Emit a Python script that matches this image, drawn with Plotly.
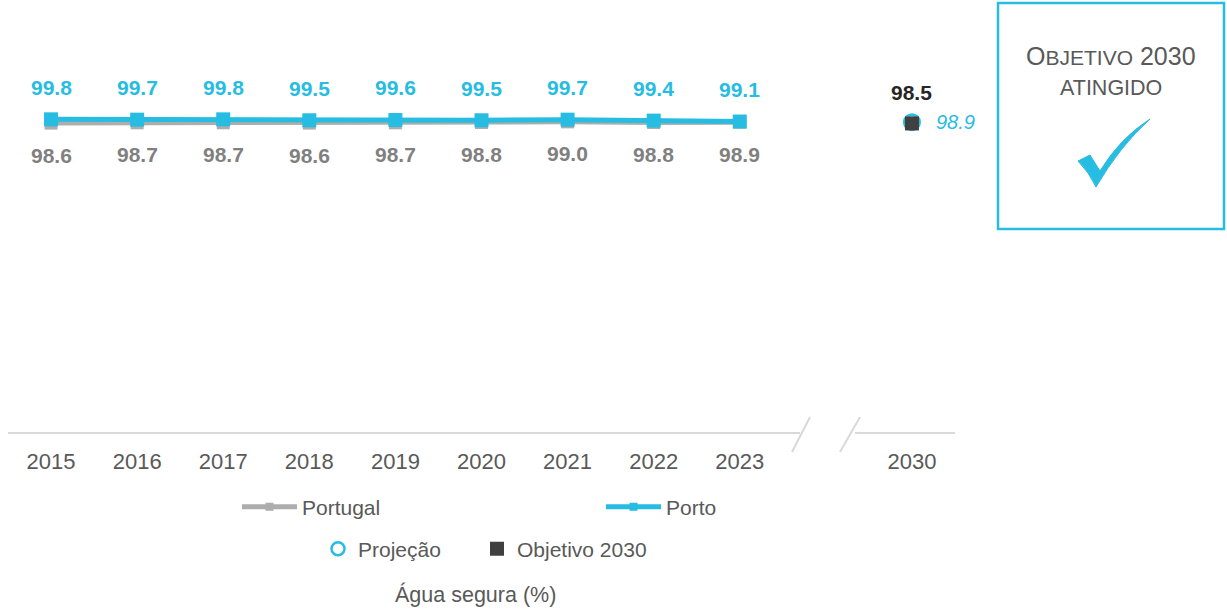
import plotly.graph_objects as go

# ---------------- data ----------------
years = ["2015", "2016", "2017", "2018", "2019", "2020", "2021", "2022", "2023"]
portugal = [98.6, 98.7, 98.7, 98.6, 98.7, 98.8, 99.0, 98.8, 98.9]
porto = [99.8, 99.7, 99.8, 99.5, 99.6, 99.5, 99.7, 99.4, 99.1]
target_year = "2030"
objetivo_2030 = [98.5]
projecao_2030 = [98.9]

# ---------------- styling ----------------
BLUE = "#27BCE2"
GRAY_LINE = "#ADADAD"
GRAY_TEXT = "#808080"
DARK = "#404040"
TEXT = "#595959"
FONT = "Liberation Sans, Arial, sans-serif"

W, H = 1227, 610
PL, PR, PT, PB = 8, 955, 37, 433   # plot area in page pixels


def px(xp):
    return (xp - PL) / (PR - PL)


def py(yp):
    return (PB - yp) / (PB - PT)


x_hist = list(range(len(years)))
x_target = [len(years) + 1]
tick_vals = x_hist + x_target
tick_text = years + [target_year]

fig = go.Figure()

# Portugal line
fig.add_trace(go.Scatter(
    x=x_hist, y=portugal, mode="lines+markers", name="Portugal",
    line=dict(color=GRAY_LINE, width=5),
    marker=dict(symbol="square", size=13, color=GRAY_LINE),
    showlegend=False, hoverinfo="skip"))
# Porto line
fig.add_trace(go.Scatter(
    x=x_hist, y=porto, mode="lines+markers", name="Porto",
    line=dict(color=BLUE, width=5),
    marker=dict(symbol="square", size=14, color=BLUE),
    showlegend=False, hoverinfo="skip"))
# Projection 2030
fig.add_trace(go.Scatter(
    x=x_target, y=projecao_2030, mode="markers", name="Projeção",
    marker=dict(symbol="circle-open", size=15, color=BLUE, line=dict(width=3, color=BLUE)),
    showlegend=False, hoverinfo="skip"))
# Target 2030
fig.add_trace(go.Scatter(
    x=x_target, y=objetivo_2030, mode="markers", name="Objetivo 2030",
    marker=dict(symbol="square", size=14, color=DARK),
    showlegend=False, hoverinfo="skip"))

# legend-only entries
fig.add_trace(go.Scatter(x=[None], y=[None], mode="lines+markers", name="Portugal",
                         line=dict(color=GRAY_LINE, width=5),
                         marker=dict(symbol="square", size=8, color=GRAY_LINE),
                         legend="legend"))
fig.add_trace(go.Scatter(x=[None], y=[None], mode="lines+markers", name="Porto",
                         line=dict(color=BLUE, width=5),
                         marker=dict(symbol="square", size=8, color=BLUE),
                         legend="legend2"))
fig.add_trace(go.Scatter(x=[None], y=[None], mode="markers", name="Projeção",
                         marker=dict(symbol="circle-open", size=13, color=BLUE,
                                     line=dict(width=2.5, color=BLUE)),
                         legend="legend3"))
fig.add_trace(go.Scatter(x=[None], y=[None], mode="markers", name="Objetivo 2030",
                         marker=dict(symbol="square", size=14, color=DARK),
                         legend="legend4"))

annotations = []
for xi, v in zip(x_hist, porto):
    annotations.append(dict(x=xi, y=v, xref="x", yref="y", text=f"{v:.1f}",
                            showarrow=False, yshift=32,
                            font=dict(family=FONT, size=21, color=BLUE, weight="bold")))
for xi, v in zip(x_hist, portugal):
    annotations.append(dict(x=xi, y=v, xref="x", yref="y", text=f"{v:.1f}",
                            showarrow=False, yshift=-32,
                            font=dict(family=FONT, size=21, color=GRAY_TEXT, weight="bold")))
annotations.append(dict(x=x_target[0], y=objetivo_2030[0], xref="x", yref="y",
                        text=f"{objetivo_2030[0]:.1f}", showarrow=False, yshift=31,
                        font=dict(family=FONT, size=21, color="#262626", weight="bold")))
annotations.append(dict(x=x_target[0], y=projecao_2030[0], xref="x", yref="y",
                        text=f"<i>{projecao_2030[0]:.1f}</i>", showarrow=False,
                        xanchor="left", xshift=22,
                        font=dict(family=FONT, size=20, color=BLUE)))
# box text
annotations.append(dict(x=px(1111), y=py(56), xref="paper", yref="paper",
                        xanchor="center", yanchor="middle",
                        text="O<span style='font-size:21px'>BJETIVO</span> 2030",
                        showarrow=False, font=dict(family=FONT, size=25, color=TEXT)))
annotations.append(dict(x=px(1111), y=py(88), xref="paper", yref="paper",
                        xanchor="center", yanchor="middle",
                        text="ATINGIDO", showarrow=False,
                        font=dict(family=FONT, size=21.5, color=TEXT)))
# footer
annotations.append(dict(x=px(475), y=py(594), xref="paper", yref="paper",
                        xanchor="center", yanchor="middle",
                        text="Água segura (%)", showarrow=False,
                        font=dict(family=FONT, size=21.5, color=TEXT)))

AX = "#D9D9D9"
shapes = [
    dict(type="line", xref="paper", yref="paper", x0=0, x1=px(800), y0=0, y1=0,
         line=dict(color=AX, width=2)),
    dict(type="line", xref="paper", yref="paper", x0=px(855), x1=1, y0=0, y1=0,
         line=dict(color=AX, width=2)),
    dict(type="line", xref="paper", yref="paper", x0=px(792), x1=px(810), y0=py(452), y1=py(417),
         line=dict(color=AX, width=2)),
    dict(type="line", xref="paper", yref="paper", x0=px(840), x1=px(860), y0=py(452), y1=py(417),
         line=dict(color=AX, width=2)),
    dict(type="rect", xref="paper", yref="paper", x0=px(998), x1=px(1224), y0=py(3), y1=py(229),
         line=dict(color=BLUE, width=2.5)),
]
# check mark
path = "M {} {} L {} {} L {} {} Q {} {} {} {} Q {} {} {} {} Q {} {} {} {} Z".format(
    px(1078), py(161), px(1090), py(155), px(1100), py(171),
    px(1120), py(138), px(1150), py(119),
    px(1120), py(146), px(1096), py(187),
    px(1089), py(172), px(1078), py(161))
shapes.append(dict(type="path", xref="paper", yref="paper", path=path,
                   fillcolor=BLUE, line=dict(color=BLUE, width=1)))

leg_font = dict(family=FONT, size=21, color=TEXT)


def leg(xp, yp, iw=30):
    return dict(x=px(xp), y=py(yp), xanchor="left", yanchor="middle",
                orientation="h", font=leg_font, bgcolor="rgba(0,0,0,0)",
                itemwidth=iw, borderwidth=0)


fig.update_layout(
    width=W, height=H,
    margin=dict(l=PL, r=W - PR, t=PT, b=H - PB, pad=0),
    paper_bgcolor="white", plot_bgcolor="white",
    font=dict(family=FONT, color=TEXT),
    xaxis=dict(range=[-0.5, 10.5], tickvals=tick_vals, ticktext=tick_text,
               showgrid=False, zeroline=False, showline=False,
               ticks="outside", ticklen=9, tickcolor="rgba(0,0,0,0)",
               tickfont=dict(family=FONT, size=22, color=TEXT), fixedrange=True),
    yaxis=dict(range=[0, 126], visible=False, fixedrange=True),
    legend=leg(237, 507, 55),
    legend2=leg(601, 507, 55),
    legend3=leg(318, 549),
    legend4=leg(477, 549),
    annotations=annotations,
    shapes=shapes,
    hovermode=False,
)

fig.write_html("out.html", config={"displayModeBar": False},
               post_script="document.body.style.margin='0';document.body.style.overflow='hidden';")
